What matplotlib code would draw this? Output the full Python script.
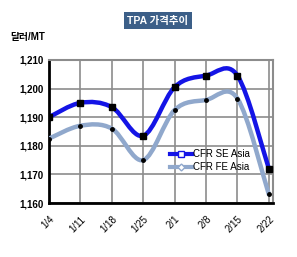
import numpy as np
import matplotlib
matplotlib.use('Agg')
import matplotlib.pyplot as plt
from matplotlib.path import Path
from matplotlib.patches import PathPatch

plt.rcParams['font.family'] = ['Liberation Sans', 'Noto Sans CJK KR', 'DejaVu Sans']

# data
dates = ['1/4', '1/11', '1/18', '1/25', '2/1', '2/8', '2/15', '2/22']
se_asia = [1190, 1195, 1193.5, 1183.5, 1200.5, 1204.5, 1204.5, 1172]
fe_asia = [1182.5, 1187, 1186, 1175, 1192.5, 1196, 1196.5, 1163]
yticks = [1160, 1170, 1180, 1190, 1200, 1210]


def smooth_path(x, y):
    # Excel-style smoothed line: cubic bezier segments through the points
    x = np.asarray(x, float)
    y = np.asarray(y, float)
    pts = np.column_stack([x, y])
    verts = [pts[0]]
    codes = [Path.MOVETO]
    n = len(pts)
    for i in range(n - 1):
        p0 = pts[i - 1] if i > 0 else pts[i]
        p1 = pts[i]
        p2 = pts[i + 1]
        p3 = pts[i + 2] if i + 2 < n else pts[i + 1]
        c1 = p1 + (p2 - p0) / 6.0
        c2 = p2 - (p3 - p1) / 6.0
        verts += [c1, c2, p2]
        codes += [Path.CURVE4] * 3
    return Path(verts, codes)


fig = plt.figure(figsize=(2.97, 2.57), dpi=100)
ax = fig.add_axes([0.165, 0.21, 0.754, 0.557])

x = np.arange(len(dates))
se_col = '#1414e6'
fe_col = '#90a8cc'

for vals, col in [(fe_asia, fe_col), (se_asia, se_col)]:
    ax.add_patch(PathPatch(smooth_path(x, vals), facecolor='none',
                           edgecolor=col, lw=3.2, capstyle='round', zorder=3))

ax.plot(x, se_asia, ls='none', marker='s', ms=4.5, color='black', zorder=4)
ax.plot(x, fe_asia, ls='none', marker='o', ms=2.5, color='black', zorder=4)

# legend proxies
ax.plot([], [], color=se_col, lw=3, marker='s', ms=4, mfc='white',
        mec=se_col, label='CFR SE Asia')
ax.plot([], [], color=fe_col, lw=3, marker='D', ms=3.5, mfc='white',
        mec=fe_col, label='CFR FE Asia')
ax.legend(loc='lower left', bbox_to_anchor=(0.52, 0.18), frameon=False,
          fontsize=7, handlelength=2.2, handletextpad=0.1, labelspacing=0.3,
          borderpad=0)

ax.set_xlim(0, 7.13)
ax.set_ylim(1160, 1210)
ax.set_xticks(x)
ax.set_xticklabels(dates, rotation=45, ha='right', rotation_mode='anchor',
                   fontsize=7)
ax.set_yticks(yticks)
ax.set_yticklabels(['{:,}'.format(v) for v in yticks], fontsize=7,
                   fontweight='bold')
ax.tick_params(length=0, pad=4)
ax.tick_params(axis='x', pad=8)

ax.grid(True, color='#8c8c8c', lw=1.2)
ax.set_axisbelow(True)
for side in ['top', 'right']:
    ax.spines[side].set_color('#8c8c8c')
    ax.spines[side].set_linewidth(1.5)
for side in ['left', 'bottom']:
    ax.spines[side].set_color('black')
    ax.spines[side].set_linewidth(2)

fig.text(0.532, 0.92, 'TPA 가격추이', ha='center', va='center', fontsize=7.5,
         color='white', fontweight='bold',
         bbox=dict(boxstyle='square,pad=0.3', fc='#3c5f88', ec='none'))
fig.text(0.035, 0.855, '달러/MT', ha='left', va='center', fontsize=7,
         fontweight='bold')

fig.savefig('out.png', dpi=100)
